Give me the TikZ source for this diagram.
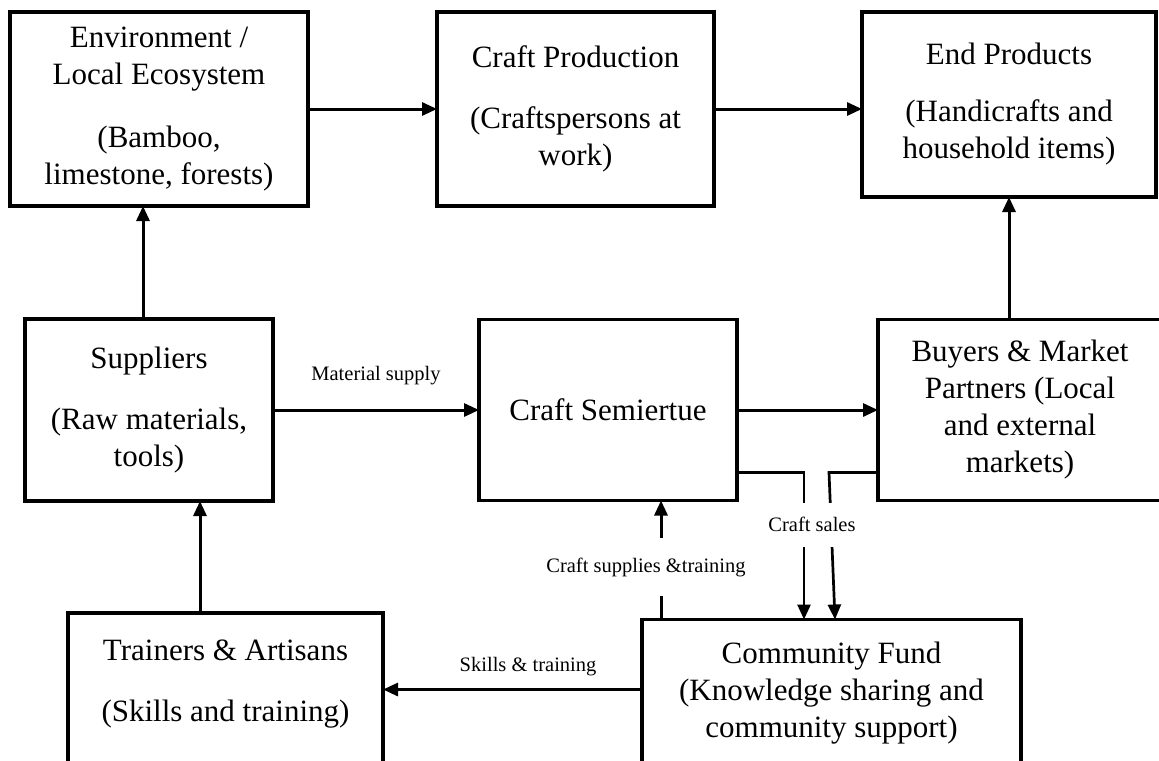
\documentclass[tikz,border=0pt]{standalone}
\usepackage{fontspec}
\setmainfont{Liberation Serif}
\usepackage{tikz}
\usetikzlibrary{arrows.meta,
                calc,
                positioning,
                shapes}
\newcommand{\blockfont}{\fontsize{15.5}{18.5}\selectfont}
\newcommand{\flowfont}{\fontsize{10.25}{12}\selectfont}
\tikzset{
	%Define standard arrow tip
	>={Triangle[length=7.5pt,width=6.5pt]},
	%Define style for boxes
	unit/.style={
	       rectangle,
	       draw=black, line width=1.7pt,
	       align=center,
	       font=\blockfont,
	       outer sep=0pt,
	       inner sep=0pt},
	% boxes cut by the lower edge, text at the top
	openunit/.style={
	       unit,
	       anchor=north west,
	       inner ysep=13.5pt},
	% Define arrow style
	link/.style={
	       ->,
	       line width=1.5pt},
	saleslink/.style={
	       ->,
	       line width=1.35pt},
	flowlabel/.style={
	       font=\flowfont,
	       inner sep=1pt}
}

\begin{document}
\begin{tikzpicture}[x=0.5pt, y=-0.5pt]
		\useasboundingbox (0,0) rectangle (1159,760);
		\clip (0,0) rectangle (1159,760);
		\node[unit, minimum width=149pt, minimum height=97pt, anchor=north west] at (10,12) (env){Environment /\\Local Ecosystem\\[13pt](Bamboo,\\limestone, forests)};
		\node[unit, minimum width=138.5pt, minimum height=97pt, right=64.5pt of env](prod){Craft Production\\[12pt](Craftspersons at\\work)};
		\node[unit, minimum width=147pt, minimum height=92.5pt, right=74pt of prod.north east, anchor=north west](ends){End Products\\[10pt](Handicrafts and\\household items)};
		\node[unit, minimum width=124pt, minimum height=91pt, below=56.5pt of env.south west, anchor=north west, xshift=7.5pt](supp){Suppliers\\[12pt](Raw materials,\\tools)};
		\node[unit, minimum width=129pt, minimum height=90.5pt, right=103pt of supp](sem){Craft Semiertue};
		\node[unit, minimum width=142pt, minimum height=90.5pt, right=70.5pt of sem](buy){Buyers \& Market\\Partners (Local\\and external\\markets)};
		\node[openunit, minimum width=157.5pt, below=56pt of supp.south west, anchor=north west, xshift=21.5pt](train){Trainers \& Artisans\\[12pt](Skills and training)\\[60pt]\mbox{}};
		\node[openunit, minimum width=189.5pt, inner ysep=11pt, below=59.5pt of sem.south west, anchor=north west, xshift=81.5pt](fund){Community Fund\\(Knowledge sharing and\\community support)\\[60pt]\mbox{}};
		% top row
		\draw[link] (env.east) -- (prod.west);
		\draw[link] (prod.east) -- (prod.east -| ends.west);
		\draw[link] ([xshift=-3pt]supp.north) -- ([xshift=-3pt]supp.north |- env.south);
		\draw[link] (buy.north -| ends.south) -- (ends.south);
		% middle row
		\draw[link] (supp.east) -- node[flowlabel, midway, yshift=17pt]{Material supply} (supp.east -| sem.west);
		\draw[link] (sem.east) -- (sem.east -| buy.west);
		% lower part
		\draw[link] ([xshift=-12.75pt]train.north) -- ([xshift=-12.75pt]train.north |- supp.south);
		\draw[link] ([yshift=-35pt]fund.north west) -- node[flowlabel, pos=0.44, yshift=11.5pt]{Skills \& training} ([yshift=-35pt]fund.north west -| train.east);
		\draw[link] ([xshift=9.5pt]fund.north west) -- node[flowlabel, pos=0.44, fill=white, minimum height=29pt, xshift=-7.5pt]{Craft supplies \&training} ([xshift=9.5pt]fund.north west |- sem.south);
		\draw[saleslink] ([yshift=-31.25pt]buy.west) -- ++(-49,0) -- ([xshift=1.75pt]fund.north);
		\draw[saleslink] ([yshift=-31.25pt]sem.east) -| node[flowlabel, pos=0.677, fill=white, minimum height=22pt, xshift=4pt]{Craft sales} ([xshift=-13.75pt]fund.north);
	\end{tikzpicture}
\end{document}
